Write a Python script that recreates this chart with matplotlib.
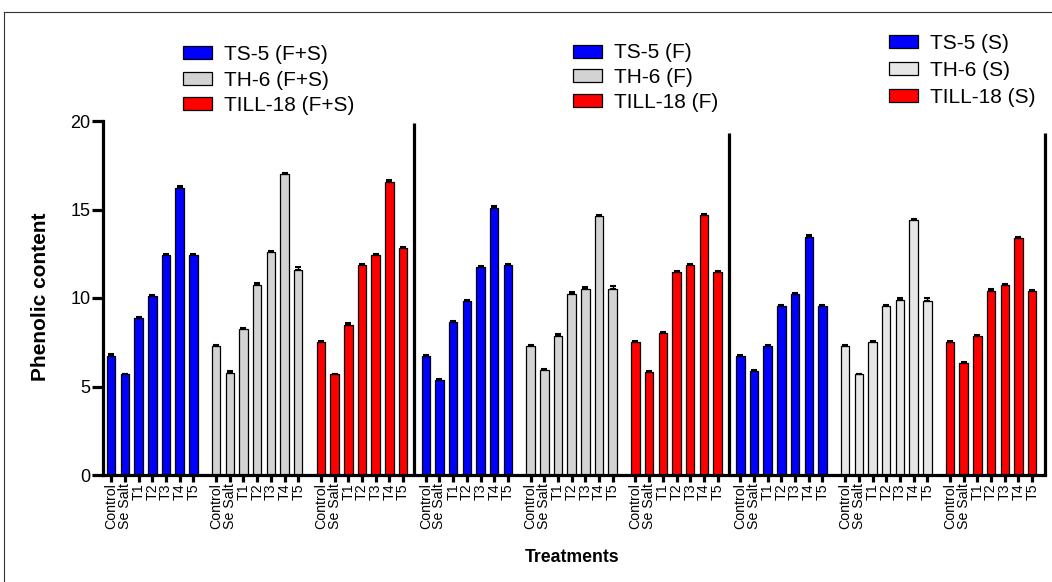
import numpy as np
import matplotlib
matplotlib.use("Agg")
import matplotlib.pyplot as plt
from matplotlib.patches import Patch
from matplotlib.lines import Line2D

plt.rcParams['font.family'] = ['Liberation Sans', 'DejaVu Sans']

# Datos
treatments = ['Control', 'Se Salt', 'T1', 'T2', 'T3', 'T4', 'T5']
group_names = ['TS-5 (F+S)', 'TH-6 (F+S)', 'TILL-18 (F+S)',
               'TS-5 (F)', 'TH-6 (F)', 'TILL-18 (F)',
               'TS-5 (S)', 'TH-6 (S)', 'TILL-18 (S)']

ts5_fs = [6.75, 5.68, 8.86, 10.11, 12.43, 16.21, 12.45]
th6_fs = [7.28, 5.79, 8.27, 10.76, 12.60, 17.00, 11.58]
till18_fs = [7.50, 5.68, 8.50, 11.84, 12.45, 16.58, 12.82]
ts5_f = [6.75, 5.36, 8.65, 9.85, 11.75, 15.10, 11.84]
th6_f = [7.28, 5.92, 7.88, 10.25, 10.53, 14.65, 10.49]
till18_f = [7.50, 5.81, 8.01, 11.49, 11.86, 14.68, 11.49]
ts5_s = [6.75, 5.87, 7.29, 9.55, 10.23, 13.44, 9.53]
th6_s = [7.28, 5.68, 7.52, 9.55, 9.91, 14.38, 9.81]
till18_s = [7.50, 6.30, 7.88, 10.42, 10.72, 13.37, 10.42]

err_ts5_fs = [0.06, 0.05, 0.07, 0.06, 0.06, 0.10, 0.06]
err_th6_fs = [0.05, 0.06, 0.06, 0.06, 0.08, 0.07, 0.18]
err_till18_fs = [0.06, 0.05, 0.06, 0.07, 0.05, 0.06, 0.06]
err_ts5_f = [0.05, 0.06, 0.06, 0.06, 0.07, 0.10, 0.07]
err_th6_f = [0.05, 0.06, 0.06, 0.07, 0.10, 0.06, 0.20]
err_till18_f = [0.05, 0.08, 0.06, 0.06, 0.06, 0.06, 0.06]
err_ts5_s = [0.05, 0.06, 0.06, 0.06, 0.06, 0.12, 0.06]
err_th6_s = [0.05, 0.05, 0.05, 0.06, 0.08, 0.08, 0.18]
err_till18_s = [0.05, 0.07, 0.05, 0.07, 0.06, 0.05, 0.06]

valores = [ts5_fs, th6_fs, till18_fs, ts5_f, th6_f, till18_f, ts5_s, th6_s, till18_s]
errores = [err_ts5_fs, err_th6_fs, err_till18_fs, err_ts5_f, err_th6_f,
           err_till18_f, err_ts5_s, err_th6_s, err_till18_s]
colores = ['#0000FF', '#D3D3D3', '#FF0000',
           '#0000FF', '#D3D3D3', '#FF0000',
           '#0000FF', '#E6E6E6', '#FF0000']

# Crear la figura
fig = plt.figure(figsize=(10.52, 5.82), dpi=100)
ax = fig.add_axes([103 / 1052, 1 - 475 / 582, (1045 - 103) / 1052, (475 - 121) / 582])

paso = 7.66
pos_todas = []
for g in range(9):
    x = g * paso + np.arange(7)
    pos_todas.extend(x)
    ax.bar(x, valores[g], width=0.62, color=colores[g], edgecolor='black',
           linewidth=0.9, zorder=2)
    ax.errorbar(x, valores[g], yerr=[np.zeros(7), errores[g]], fmt='none',
                ecolor='black', elinewidth=1.0, capsize=2, capthick=1.5, zorder=3)

xmax = 8 * paso + 6 + 0.94
ax.set_xlim(-0.6, xmax)
ax.set_ylim(0, 20)

# lineas verticales que separan los paneles
sep1 = (2 * paso + 6 + 3 * paso) / 2
sep2 = (5 * paso + 6 + 6 * paso) / 2
ax.vlines([sep1], 0, 19.88, color='black', linewidth=2.3, zorder=4)
ax.vlines([sep2, xmax], 0, 19.32, color='black', linewidth=2.3, zorder=4,
          clip_on=False)

ax.spines['top'].set_visible(False)
ax.spines['right'].set_visible(False)
ax.spines['left'].set_linewidth(2.3)
ax.spines['bottom'].set_linewidth(2.3)

ax.set_yticks([0, 5, 10, 15, 20])
ax.tick_params(axis='y', length=8, width=2.3, labelsize=13, pad=1)
ax.set_xticks(pos_todas)
ax.set_xticklabels(treatments * 9, rotation=90, fontsize=10.2)
ax.tick_params(axis='x', length=5, width=2.3, pad=1)

fig.text(40.7 / 1052, 1 - 297 / 582, 'Phenolic content', rotation=90,
         fontsize=15, fontweight='bold', ha='center', va='center')
fig.text(572.5 / 1052, 1 - 558 / 582, 'Treatments', fontsize=12.7,
         fontweight='bold', ha='center', va='center')

# Leyendas
leyendas = [(182.7, 80, 0, 0.3), (572.7, 77.5, 3, 0.27), (889.3, 70.4, 6, 0.37)]
for lx, ly, k, esp in leyendas:
    handles = [Patch(facecolor=colores[k + j], edgecolor='black', linewidth=0.9)
               for j in range(3)]
    fig.legend(handles, group_names[k:k + 3], loc='center left',
               bbox_to_anchor=(lx / 1052, 1 - ly / 582), frameon=False,
               fontsize=15, handlelength=1.4, handleheight=0.58,
               handletextpad=0.56, labelspacing=esp, borderpad=0,
               borderaxespad=0)

# borde de la figura
fig.add_artist(Line2D([4 / 1052, 1], [1 - 12 / 582, 1 - 12 / 582],
                      transform=fig.transFigure, color='#333333', linewidth=0.8))
fig.add_artist(Line2D([4 / 1052, 4 / 1052], [0, 1 - 12 / 582],
                      transform=fig.transFigure, color='#333333', linewidth=0.8))

fig.savefig('out.png', dpi=100)
